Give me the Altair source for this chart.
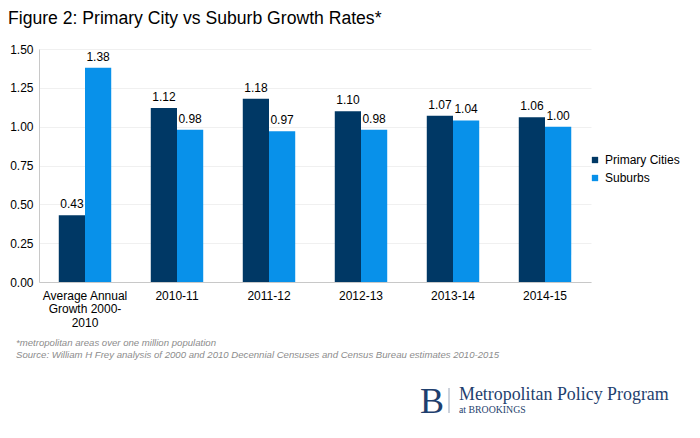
import altair as alt
import pandas as pd

categories = ["Average Annual Growth 2000-2010", "2010-11", "2011-12", "2012-13", "2013-14", "2014-15"]
primary_cities = [0.43, 1.12, 1.18, 1.10, 1.07, 1.06]
suburbs = [1.38, 0.98, 0.97, 0.98, 1.04, 1.00]
series_names = ["Primary Cities", "Suburbs"]
series_colors = ["#003865", "#0891EA"]
y_ticks = [0.0, 0.25, 0.5, 0.75, 1.0, 1.25, 1.5]

title_text = "Figure 2: Primary City vs Suburb Growth Rates*"
note_text = "*metropolitan areas over one million population"
source_text = "Source: William H Frey analysis of 2000 and 2010 Decennial Censuses and Census Bureau estimates  2010-2015"

rows = []
for c, p, s in zip(categories, primary_cities, suburbs):
    rows.append({"cat": c, "series": series_names[0], "value": p})
    rows.append({"cat": c, "series": series_names[1], "value": s})
df = pd.DataFrame(rows)

FONT = "Liberation Sans"
SERIF = "Liberation Serif"
W, H = 552, 233

x_enc = alt.X("cat:N", sort=categories,
              scale=alt.Scale(paddingInner=0.43, paddingOuter=0.215),
              axis=alt.Axis(title=None, labelAngle=0, ticks=False, domainColor="#c8c8c8",
                            labelFont=FONT, labelFontSize=12, labelColor="#000000",
                            labelPadding=8, labelLineHeight=13.5,
                            labelExpr="datum.value == 'Average Annual Growth 2000-2010' ? ['Average Annual', 'Growth 2000-', '2010'] : datum.value"))
y_enc = alt.Y("value:Q", scale=alt.Scale(domain=[0, 1.5], nice=False),
              axis=alt.Axis(title=None, values=y_ticks, format=".2f", ticks=False,
                            labelOverlap=False, tickCount=7,
                            domainColor="#c8c8c8", gridColor="#f0f0f0",
                            labelFont=FONT, labelFontSize=12, labelColor="#000000",
                            labelPadding=6))
xo = alt.XOffset("series:N", sort=series_names)

bars = alt.Chart(df).mark_bar().encode(
    x=x_enc, y=y_enc, xOffset=xo,
    color=alt.Color("series:N", sort=series_names,
                    scale=alt.Scale(domain=series_names, range=series_colors),
                    legend=alt.Legend(title=None, orient="none", legendX=550, legendY=105,
                                      symbolType="square", symbolSize=40,
                                      labelFont=FONT, labelFontSize=12, labelColor="#000000",
                                      rowPadding=6, symbolStrokeWidth=0)),
)

labels = alt.Chart(df).mark_text(baseline="bottom", dy=-4, font=FONT, fontSize=12, color="#000000").encode(
    x=x_enc, y=y_enc, xOffset=xo,
    text=alt.Text("value:Q", format=".2f"),
)

def txt(t, x, y, **kw):
    return alt.Chart(pd.DataFrame({"t": [t]})).mark_text(align="left", baseline="alphabetic", **kw).encode(
        x=alt.value(x), y=alt.value(y), text="t:N")

title = txt(title_text, -31, -25, font=FONT, fontSize=17.6, color="#000000")
note = txt(note_text, -23, 297, font=FONT, fontSize=9.6, fontStyle="italic", color="#8c8c8c")
source = txt(source_text, -23, 309, font=FONT, fontSize=9.6, fontStyle="italic", color="#8c8c8c")
logo_b = txt("B", 381, 364, font=SERIF, fontSize=36, color="#1F3F6E")
logo_rule = alt.Chart(pd.DataFrame({"a": [0]})).mark_rule(color="#9aa5b8", strokeWidth=1).encode(
    x=alt.value(410), y=alt.value(339), y2=alt.value(364))
logo_main = txt("Metropolitan Policy Program", 420, 351, font=SERIF, fontSize=17.9, color="#1F3F6E")
logo_sub = txt("at BROOKINGS", 420, 364, font=SERIF, fontSize=9.8, color="#1F3F6E")

chart = alt.layer(bars, labels, title, note, source, logo_b, logo_rule, logo_main, logo_sub).properties(
    width=W, height=H,
    background="#ffffff",
    autosize=alt.AutoSizeParams(type="none"),
    padding={"left": 31, "top": 41, "right": 101, "bottom": 148},
).configure_view(stroke=None)

chart.save("out.html", embed_options={"renderer": "svg", "actions": False})
